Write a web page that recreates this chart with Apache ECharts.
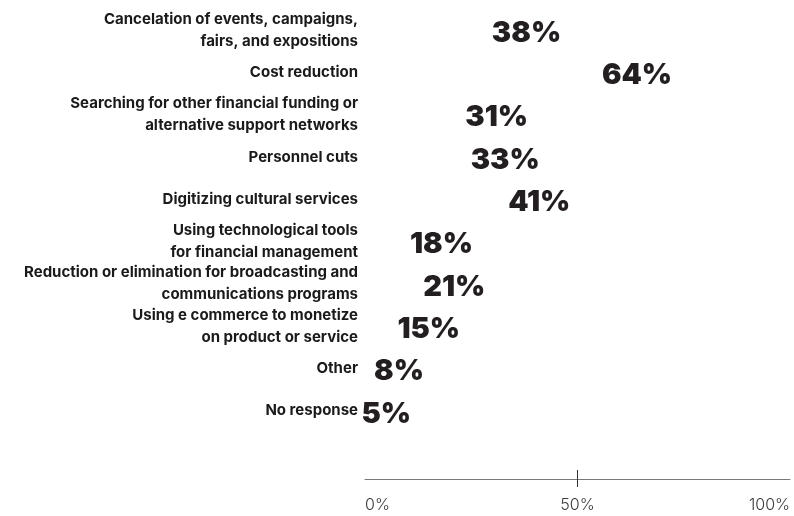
<!DOCTYPE html>
<html>
<head>
<meta charset="utf-8">
<script src="https://cdn.jsdelivr.net/npm/echarts@6/dist/echarts.min.js"></script>
<style>
  html, body { margin: 0; padding: 0; background: #fff; }
  #chart { width: 794px; height: 516px; }
</style>
</head>
<body>
<div id="chart"></div>
<script>
// Actions taken by cultural organisations (share of respondents)
const categories = [
  'Cancelation of events, campaigns,\nfairs, and expositions',
  'Cost reduction',
  'Searching for other financial funding or\nalternative support networks',
  'Personnel cuts',
  'Digitizing cultural services',
  'Using technological tools\nfor financial management',
  'Reduction or elimination for broadcasting and\ncommunications programs',
  'Using e commerce to monetize\non product or service',
  'Other',
  'No response'
];
const shares = [38, 64, 31, 33, 41, 18, 21, 15, 8, 5];
const axisTicks = [0, 50, 100];

const chart = echarts.init(document.getElementById('chart'), null, { renderer: 'canvas' });

const xBase = {
  type: 'value',
  min: 0,
  max: 100,
  interval: 50,
  splitLine: { show: false }
};

chart.setOption({
  animation: false,
  backgroundColor: '#ffffff',
  grid: { left: 365, right: 4, top: 9, bottom: 84, containLabel: false },
  xAxis: [
    Object.assign({}, xBase, {
      position: 'bottom',
      offset: 47,
      axisLine: { show: true, lineStyle: { color: '#7a7a7a', width: 1 } },
      axisTick: { show: false },
      axisLabel: {
        show: true,
        margin: 18,
        fontFamily: 'Inter',
        fontWeight: 300,
        fontSize: 16,
        color: '#3a3a3a',
        alignMinLabel: 'left',
        alignMaxLabel: 'right',
        customValues: axisTicks,
        formatter: v => v + '%'
      }
    }),
    Object.assign({}, xBase, {
      position: 'bottom',
      offset: 38,
      axisLine: { show: false },
      axisTick: { show: true, customValues: [50], length: 17, lineStyle: { color: '#333333', width: 1 } },
      axisLabel: { show: false }
    })
  ],
  yAxis: {
    type: 'category',
    data: categories,
    inverse: true,
    axisLine: { show: false },
    axisTick: { show: false },
    splitLine: { show: false },
    axisLabel: {
      margin: 7,
      fontFamily: 'Inter',
      fontWeight: 700,
      fontSize: 15,
      lineHeight: 22,
      color: '#1a1a1a',
      align: 'right'
    }
  },
  series: [{
    type: 'scatter',
    xAxisIndex: 0,
    symbolSize: 0,
    itemStyle: { opacity: 1 },
    data: shares.map((v, i) => [v, categories[i]]),
    label: {
      show: true,
      position: 'inside',
      offset: [0, 3],
      formatter: p => p.value[0] + '%',
      fontFamily: 'Inter',
      fontWeight: 900,
      fontSize: 29,
      color: '#231f20',
      opacity: 1
    }
  }]
});
</script>
</body>
</html>
